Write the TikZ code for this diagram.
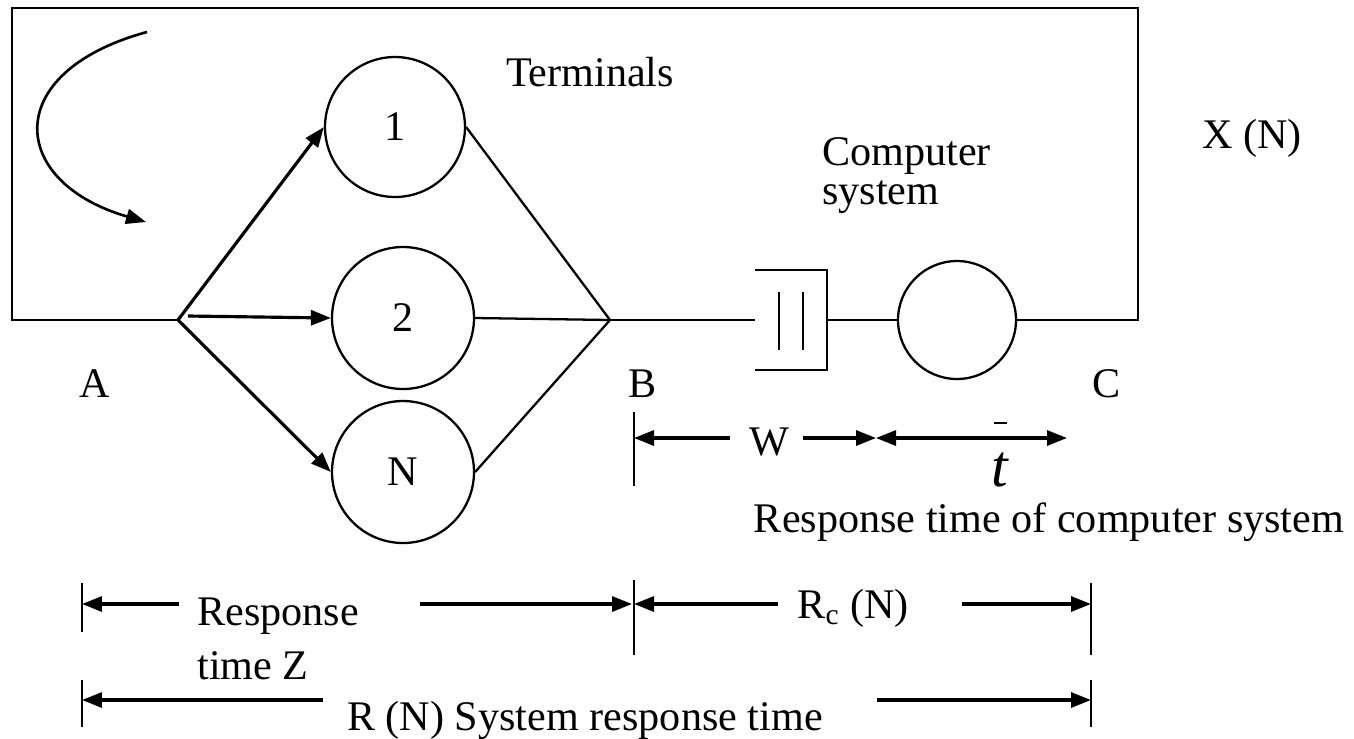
\documentclass[tikz,border=0pt]{standalone}
\usepackage{fontspec}
\setmainfont{Liberation Serif}
\usetikzlibrary{arrows.meta}
\begin{document}
\begin{tikzpicture}[x=0.02cm,y=-0.02cm,
  every node/.style={font=\fontsize{24}{27}\selectfont},
  plain/.style={line width=1.3pt},
  tip/.tip={Triangle[length=0.4cm,width=0.3cm]},
  arr/.style={line width=1.8pt,-tip},
  darr/.style={line width=1.8pt,tip-tip},
  tick/.style={line width=1.3pt},
  term/.style={circle,draw,line width=1.3pt,minimum size=2.84cm,inner sep=0pt},
  lbl/.style={inner sep=0pt}]
\useasboundingbox (0,0) rectangle (1354,738);
% junctions
\coordinate (A0) at (178,320);
\coordinate (A1) at (188,316);
\coordinate (B0) at (610,320);
\coordinate (TR) at (1138,8);
\coordinate (TL) at (12,8);
\coordinate (BR) at (1138,320);
\coordinate (BL) at (12,320);
% terminals
\node[term,minimum size=2.8cm] (c1) at (395,127) {1};
\node[term] (c2) at (403,318) {2};
\node[term] (cN) at (403,472) {N};
\node[term,minimum size=2.36cm] (cs) at (957,320) {};
% queue
\coordinate (qtl) at (755,270);
\coordinate (qtr) at (827,270);
\coordinate (qbr) at (827,370);
\coordinate (qbl) at (755,370);
\coordinate (ql) at (755,320);
\coordinate (qr) at (827,320);
\coordinate (q1t) at (779,292);
\coordinate (q1b) at (779,350);
\coordinate (q2t) at (803,292);
\coordinate (q2b) at (803,350);
\draw[plain] (qtl) -- (qtr) -- (qbr) -- (qbl);
\draw[plain] (q1t) -- (q1b);
\draw[plain] (q2t) -- (q2b);
% loop
\draw[plain] (A0) -- (BL) -- (TL) -- (TR) -- (BR) -- (cs.east);
\draw[plain] (B0) -- (ql);
\draw[plain] (qr) -- (cs.west);
% fan out
\draw[arr] (A0) -- (c1.west);
\draw[arr] (A1) -- (c2.west);
\draw[arr] (A0) -- (cN.west);
% fan in
\draw[plain] (c1.east) -- (B0);
\draw[plain] (c2.east) -- (B0);
\draw[plain] (cN.east) -- (B0);
% curved arrow
\coordinate (ca0) at (147,32);
\coordinate (ca1) at (146,222);
\draw[arr,line width=1.5pt] (ca0) .. controls (0,72) and (8,182) .. (ca1);
% labels
\node[lbl] (term) at (590,72) {Terminals};
\node[lbl,align=left,anchor=north west,font=\fontsize{24}{22.5}\selectfont] (comp) at (822,137) {Computer\\system};
\node[lbl] (xn) at (1252,138) {X (N)};
\node[lbl] (la) at (95,384) {A};
\node[lbl] (lb) at (643,384) {B};
\node[lbl] (lc) at (1107,384) {C};
% W / t row
\coordinate (tkB1t) at (634,412);
\coordinate (tkB1b) at (634,486);
\draw[tick] (tkB1t) -- (tkB1b);
\coordinate (w0) at (634,438);
\coordinate (w1) at (730,438);
\coordinate (w2) at (803,438);
\coordinate (w3) at (876,438);
\coordinate (w4) at (1067,438);
\draw[arr] (w1) -- (w0);
\draw[arr] (w2) -- (w3);
\draw[darr] (w3) -- (w4);
\node[lbl] (lw) at (769,442) {W};
\node[lbl,font=\itshape\fontsize{34}{34}\selectfont] (lt) at (1000,470) {t};
\coordinate (bar0) at (994,423);
\coordinate (bar1) at (1007,423);
\draw[line width=1.6pt] (bar0) -- (bar1);
\node[lbl] (rtc) at (1049,522) {Response time of computer system};
% Rc row
\coordinate (tkB2t) at (634,580);
\coordinate (tkB2b) at (634,655);
\coordinate (tkC1t) at (1091,583);
\coordinate (tkC1b) at (1091,655);
\draw[tick] (tkB2t) -- (tkB2b);
\draw[tick] (tkC1t) -- (tkC1b);
\coordinate (rc0) at (634,604);
\coordinate (rc1) at (778,604);
\coordinate (rc2) at (962,604);
\coordinate (rc3) at (1091,604);
\draw[arr] (rc1) -- (rc0);
\draw[arr] (rc2) -- (rc3);
\node[lbl] (lrc) at (853,608) {R\textsubscript{c} (N)};
% Z row
\coordinate (tkA1t) at (82,583);
\coordinate (tkA1b) at (82,632);
\draw[tick] (tkA1t) -- (tkA1b);
\coordinate (z0) at (82,604);
\coordinate (z1) at (179,604);
\coordinate (z2) at (420,604);
\coordinate (z3) at (632,604);
\draw[arr] (z1) -- (z0);
\draw[arr] (z2) -- (z3);
\node[lbl,align=left,anchor=north west,font=\fontsize{24}{30.5}\selectfont] (lz) at (197,598) {Response\\time Z};
% R row
\coordinate (tkA2t) at (82,680);
\coordinate (tkA2b) at (82,727);
\coordinate (tkC2t) at (1091,680);
\coordinate (tkC2b) at (1091,727);
\draw[tick] (tkA2t) -- (tkA2b);
\draw[tick] (tkC2t) -- (tkC2b);
\coordinate (r0) at (82,700);
\coordinate (r1) at (323,700);
\coordinate (r2) at (877,700);
\coordinate (r3) at (1091,700);
\draw[arr] (r1) -- (r0);
\draw[arr] (r2) -- (r3);
\node[lbl] (lr) at (585,720) {R (N) System response time};
\end{tikzpicture}
\end{document}
